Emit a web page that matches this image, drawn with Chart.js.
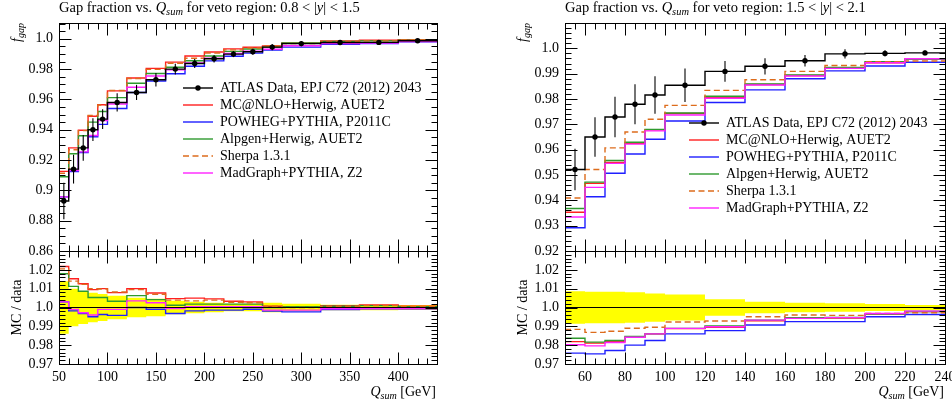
<!DOCTYPE html>
<html>
<head>
<meta charset="utf-8">
<script src="https://cdn.jsdelivr.net/npm/chart.js@4.4.1/dist/chart.umd.min.js"></script>
<style>
html,body{margin:0;padding:0;background:#fff;overflow:hidden;width:952px;height:405px;position:relative;}
canvas{position:absolute;display:block;}
</style>
</head>
<body>
<canvas id="leftMain" width="457" height="266" style="left:0px;top:0px"></canvas>
<canvas id="leftRatio" width="457" height="169" style="left:0px;top:236px"></canvas>
<canvas id="rightMain" width="459" height="266" style="left:506px;top:0px"></canvas>
<canvas id="rightRatio" width="459" height="169" style="left:506px;top:236px"></canvas>
<script>
// ---------------- labels ----------------
const dataLabel = 'ATLAS Data, EPJ C72 (2012) 2043';
const seriesNames = ['MC@NLO+Herwig, AUET2', 'POWHEG+PYTHIA, P2011C', 'Alpgen+Herwig, AUET2', 'Sherpa 1.3.1', 'MadGraph+PYTHIA, Z2'];

// ---------------- left panel: 0.8 < |y| < 1.5 ----------------
const leftEdges   = [50,60,70,80,90,100,120,140,160,180,200,220,240,260,280,320,360,400,440];
const leftCenters = [55,65,75,85,95,110,130,150,170,190,210,230,250,270,300,340,380,420];
const leftData    = [0.893,0.914,0.928,0.940,0.947,0.958,0.9646,0.973,0.980,0.9837,0.9868,0.9899,0.9914,0.9945,0.9968,0.9975,0.9976,0.9987];
const leftDataErr = [0.012,0.0095,0.0085,0.0075,0.0065,0.006,0.005,0.0045,0.0035,0.003,0.0025,0.002,0.002,0.002,0.0018,0.0015,0.0015,0.0013];
const leftMCNLO   = [0.9125,0.928,0.9397,0.9489,0.9565,0.9656,0.9741,0.9805,0.9846,0.9886,0.9913,0.9933,0.9944,0.9952,0.9972,0.9985,0.999,0.9994];
const leftPowheg  = [0.8957,0.9124,0.925,0.9354,0.9435,0.954,0.9646,0.9721,0.9769,0.9819,0.9854,0.9885,0.9905,0.9926,0.9945,0.9964,0.9969,0.998];
const leftAlpgen  = [0.909,0.9242,0.936,0.945,0.952,0.9612,0.9707,0.9771,0.9812,0.9855,0.9886,0.9917,0.9932,0.9945,0.9972,0.9982,0.9986,0.9991];
const leftSherpa  = [0.9113,0.9268,0.9394,0.9494,0.9563,0.9659,0.9738,0.9798,0.9838,0.9871,0.9906,0.9927,0.9939,0.9952,0.9968,0.9982,0.9986,0.9992];
const leftMadGraph= [0.8957,0.9131,0.9254,0.9362,0.9461,0.957,0.968,0.9754,0.9795,0.9841,0.9872,0.9903,0.9918,0.9931,0.9954,0.9968,0.9971,0.9982];
const leftRatioMCNLO   = [1.0218,1.0153,1.0126,1.0095,1.0100,1.0079,1.0100,1.0077,1.0047,1.0050,1.0046,1.0033,1.0030,1.0007,1.0004,1.0010,1.0014,1.0007];
const leftRatioPowheg  = [1.0030,0.9982,0.9968,0.9951,0.9963,0.9958,1.0000,0.9991,0.9968,0.9982,0.9986,0.9986,0.9991,0.9981,0.9977,0.9989,0.9993,0.9993];
const leftRatioAlpgen  = [1.0179,1.0112,1.0086,1.0053,1.0053,1.0033,1.0063,1.0042,1.0012,1.0018,1.0018,1.0018,1.0018,1.0000,1.0004,1.0007,1.0010,1.0004];
const leftRatioSherpa  = [1.0205,1.0140,1.0123,1.0100,1.0098,1.0082,1.0095,1.0070,1.0039,1.0035,1.0039,1.0028,1.0025,1.0007,1.0000,1.0007,1.0010,1.0005];
const leftRatioMadGraph= [1.0030,0.9990,0.9972,0.9960,0.9990,0.9990,1.0035,1.0025,0.9995,1.0004,1.0004,1.0004,1.0004,0.9986,0.9986,0.9993,0.9995,0.9995];
const leftBandHalf     = [0.0140,0.0100,0.0088,0.0078,0.0072,0.0062,0.0052,0.0046,0.0036,0.0030,0.0025,0.0020,0.0020,0.0025,0.0020,0.0015,0.0015,0.0013];

// ---------------- right panel: 1.5 < |y| < 2.1 ----------------
const rightEdges   = [50,60,70,80,90,100,120,140,160,180,200,220,240];
const rightCenters = [55,65,75,85,95,110,130,150,170,190,210,230];
const rightData    = [0.9522,0.965,0.9729,0.9779,0.9816,0.9854,0.9909,0.9929,0.9951,0.9978,0.998,0.9982];
const rightDataErr = [0.0082,0.0078,0.008,0.0079,0.0074,0.0066,0.0041,0.0032,0.0023,0.0018,0.0012,0.0009];
const rightMCNLO   = [0.9353,0.9467,0.955,0.9625,0.9678,0.9743,0.9807,0.9857,0.9893,0.9924,0.9943,0.9958];
const rightPowheg  = [0.9292,0.9414,0.9507,0.9583,0.9641,0.9713,0.9786,0.9836,0.988,0.9911,0.993,0.9945];
const rightAlpgen  = [0.9368,0.9472,0.9557,0.9629,0.968,0.9745,0.9811,0.9859,0.9895,0.9925,0.9947,0.9957];
const rightSherpa  = [0.9409,0.9522,0.9607,0.967,0.972,0.9775,0.9834,0.9876,0.9909,0.9932,0.9947,0.995];
const rightMadGraph= [0.9334,0.9451,0.9546,0.9622,0.9674,0.9737,0.9803,0.9855,0.9891,0.9921,0.9943,0.9959];
const rightRatioMCNLO   = [0.9819,0.9811,0.9819,0.9842,0.9860,0.9888,0.9895,0.9930,0.9942,0.9944,0.9965,0.9979];
const rightRatioPowheg  = [0.9758,0.9754,0.9772,0.9800,0.9825,0.9860,0.9877,0.9907,0.9925,0.9925,0.9951,0.9963];
const rightRatioAlpgen  = [0.9837,0.9816,0.9825,0.9846,0.9860,0.9889,0.9902,0.9933,0.9946,0.9947,0.9965,0.9979];
const rightRatioSherpa  = [0.9884,0.9868,0.9874,0.9890,0.9895,0.9923,0.9928,0.9951,0.9960,0.9958,0.9968,0.9972];
const rightRatioMadGraph= [0.9802,0.9796,0.9814,0.9842,0.9860,0.9889,0.9898,0.9933,0.9942,0.9946,0.9968,0.9981];
const rightBandHalf     = [0.0086,0.0083,0.0084,0.0081,0.0075,0.0069,0.0044,0.0030,0.0025,0.0022,0.0018,0.0013];

const dataRatio = 1.0;

// ---------------- tick labels ----------------
const leftMainYTicks  = [0.86,0.88,0.90,0.92,0.94,0.96,0.98,1.00];
const leftMainYLabels = ['0.86','0.88','0.9','0.92','0.94','0.96','0.98','1.0'];
const rightMainYTicks = [0.92,0.93,0.94,0.95,0.96,0.97,0.98,0.99,1.00];
const rightMainYLabels= ['0.92','0.93','0.94','0.95','0.96','0.97','0.98','0.99','1.0'];
const ratioYTicks     = [0.97,0.98,0.99,1.00,1.01,1.02];
const ratioYLabels    = ['0.97','0.98','0.99','1.0','1.01','1.02'];
const leftXTicks      = [50,100,150,200,250,300,350,400];
const leftXLabels     = ['50','100','150','200','250','300','350','400'];
const rightXTicks     = [60,80,100,120,140,160,180,200,220,240];
const rightXLabels    = ['60','80','100','120','140','160','180','200','220','240'];

// ---------------- styles ----------------
const FONT = '"Liberation Serif", "Times New Roman", serif';
const FS_TICK = 14, FS_TEXT = 14, FS_TITLE = 14.5;
const seriesColors = ['#ff1f1f','#1f1fff','#2e9a2e','#dd6c1c','#ff22ff'];
const seriesDash   = [[],[],[],[6,3.5],[]];
const BAND = '#ffff00';
Chart.defaults.font.family = FONT;
Chart.defaults.color = '#000';

function range(a,b,s){const o=[];for(let v=a;v<=b+1e-9;v+=s)o.push(+v.toFixed(6));return o;}
function histPoints(edges, vals){
  const pts = vals.map((v,i)=>({x:edges[i], y:v}));
  pts.push({x:edges[edges.length-1], y:vals[vals.length-1]});
  return pts;
}
function stepDS(edges, vals, color, dash, order, width){
  return {data:histPoints(edges, vals), borderColor:color, borderWidth:width||1.4, borderDash:dash||[],
          stepped:true, pointRadius:0, fill:false, tension:0, order:order};
}
function fontFor(p, size){ return (p.i?'italic ':'') + (p.s? size*0.72 : size) + 'px ' + FONT; }
function drawRich(ctx, x, y, parts, align, size){
  ctx.textAlign='left';
  let w=0; parts.forEach(p=>{ctx.font=fontFor(p,size); w+=ctx.measureText(p.t).width;});
  let cx = align==='right' ? x-w : (align==='center' ? x-w/2 : x);
  parts.forEach(p=>{ctx.font=fontFor(p,size); ctx.fillText(p.t, cx, y+(p.s?3:0)); cx+=ctx.measureText(p.t).width;});
}

function makeDecor(cfg){
  return {
    id:'decor',
    afterDatasetDraw(chart, args){
      const ds = chart.data.datasets[args.index];
      if(!ds.errors) return;
      const ctx=chart.ctx, xs=chart.scales.x, ys=chart.scales.y;
      ctx.save(); ctx.strokeStyle='#000'; ctx.lineWidth=1.1;
      ds.data.forEach((p,i)=>{
        const px = xs.getPixelForValue(p.x);
        ctx.beginPath();
        ctx.moveTo(px, ys.getPixelForValue(p.y - ds.errors[i]));
        ctx.lineTo(px, ys.getPixelForValue(p.y + ds.errors[i]));
        ctx.stroke();
      });
      ctx.restore();
    },
    afterDraw(chart){
      const ctx=chart.ctx, a=chart.chartArea, xs=chart.scales.x, ys=chart.scales.y;
      const L=Math.round(a.left)+0.5, R=Math.round(a.right)+0.5, T=Math.round(a.top)+0.5, B=Math.round(a.bottom)+0.5;
      ctx.save();
      ctx.strokeStyle='#000'; ctx.lineWidth=1;
      ctx.strokeRect(L, T, R-L, B-T);
      const xt=(vals,len)=>vals.forEach(v=>{const px=Math.round(xs.getPixelForValue(v))+0.5; if(px<L-0.1||px>R+0.1) return;
        ctx.beginPath(); ctx.moveTo(px,B); ctx.lineTo(px,B-len); ctx.moveTo(px,T); ctx.lineTo(px,T+len); ctx.stroke();});
      const yt=(vals,len)=>vals.forEach(v=>{const py=Math.round(ys.getPixelForValue(v))+0.5; if(py<T-0.1||py>B+0.1) return;
        ctx.beginPath(); ctx.moveTo(L,py); ctx.lineTo(L+len,py); ctx.moveTo(R,py); ctx.lineTo(R-len,py); ctx.stroke();});
      xt(cfg.xMinor,6); xt(cfg.xMajor,12); yt(cfg.yMinor,6); yt(cfg.yMajor,12);
      // texts
      ctx.fillStyle='#000'; ctx.textBaseline='alphabetic'; ctx.textAlign='left';
      if(cfg.title) drawRich(ctx, a.left, a.top-11, cfg.title, 'left', FS_TITLE);
      if(cfg.xlabel) drawRich(ctx, a.right-1, a.bottom+32, cfg.xlabel, 'right', FS_TEXT);
      if(cfg.ylabel){
        ctx.save();
        ctx.translate(a.left-38, cfg.ylabelCenter ? (a.top+a.bottom)/2 : a.top);
        ctx.rotate(-Math.PI/2);
        drawRich(ctx, 0, 0, cfg.ylabel, cfg.ylabelCenter ? 'center' : 'right', FS_TEXT);
        ctx.restore();
      }
      // legend
      if(cfg.legend){
        const lg=cfg.legend;
        lg.entries.forEach((e,k)=>{
          const y=a.top+lg.y0+k*17, x0=a.left+124, x1=a.left+154;
          ctx.save();
          ctx.strokeStyle=e.color; ctx.lineWidth=1.4; ctx.setLineDash(e.dash||[]);
          ctx.beginPath(); ctx.moveTo(x0,y); ctx.lineTo(x1,y); ctx.stroke(); ctx.setLineDash([]);
          if(e.point){ctx.fillStyle='#000'; ctx.beginPath(); ctx.arc((x0+x1)/2,y,2.7,0,Math.PI*2); ctx.fill();}
          ctx.fillStyle='#000'; ctx.font=FS_TEXT+'px '+FONT; ctx.textBaseline='middle'; ctx.textAlign='left';
          ctx.fillText(e.label, a.left+161, y+0.5);
          ctx.restore();
        });
      }
      ctx.restore();
    }
  };
}

function yAxis(min,max,ticks,labels){
  return {type:'linear', min:min, max:max, grid:{display:false, drawTicks:false}, border:{display:false},
    afterFit:s=>{s.width=50;}, afterBuildTicks:s=>{s.ticks=ticks.map(v=>({value:v}));},
    ticks:{autoSkip:false, padding:6, color:'#000', font:{family:FONT,size:FS_TICK}, callback:(v,i)=>labels[i]}};
}
const baseOpts = {responsive:false, animation:false, events:[], plugins:{legend:{display:false}, tooltip:{enabled:false}}};

function buildMain(id, P){
  const ds=[];
  ds.push({data:P.centers.map((c,i)=>({x:c,y:P.data[i]})), showLine:false, pointRadius:2.7,
           pointBackgroundColor:'#000', pointBorderColor:'#000', pointBorderWidth:0, borderColor:'#000', errors:P.err, order:0});
  ds.push(stepDS(P.edges, P.data, '#000', [], 1, 1.4));
  P.series.forEach((v,k)=>ds.push(stepDS(P.edges, v, seriesColors[k], seriesDash[k], 6-k)));
  const legendEntries=[{label:dataLabel, color:'#000', point:true}].concat(
    seriesNames.map((n,k)=>({label:n, color:seriesColors[k], dash:seriesDash[k]})));
  new Chart(document.getElementById(id), {
    type:'line', data:{datasets:ds},
    options:Object.assign({}, baseOpts, {
      layout:{padding:{left:9,right:20,top:23,bottom:15}},
      scales:{x:{type:'linear', display:false, min:P.xMin, max:P.xMax}, y:yAxis(P.yMin,P.yMax,P.yTicks,P.yLabels)}
    }),
    plugins:[makeDecor({xMajor:P.xTicks, xMinor:P.xMinor, yMajor:P.yTicks, yMinor:P.yMinor, title:P.title,
      ylabel:[{t:'f',i:1},{t:'gap',i:1,s:1}], legend:{y0:P.legendY0, entries:legendEntries}})]
  });
}
function buildRatio(id, P){
  const ds=[];
  ds.push(stepDS(P.edges, P.edges.slice(1).map(()=>dataRatio), '#000', [], 0, 1.1));
  P.series.forEach((v,k)=>ds.push(stepDS(P.edges, v, seriesColors[k], seriesDash[k], 6-k)));
  ds.push({data:histPoints(P.edges, P.band.map(h=>dataRatio+h)), stepped:true, pointRadius:0, borderWidth:0,
           borderColor:'rgba(0,0,0,0)', backgroundColor:BAND, fill:'+1', order:20});
  ds.push({data:histPoints(P.edges, P.band.map(h=>dataRatio-h)), stepped:true, pointRadius:0, borderWidth:0,
           borderColor:'rgba(0,0,0,0)', fill:false, order:21});
  new Chart(document.getElementById(id), {
    type:'line', data:{datasets:ds},
    options:Object.assign({}, baseOpts, {
      layout:{padding:{left:9,right:20,top:15,bottom:0}},
      scales:{
        x:{type:'linear', min:P.xMin, max:P.xMax, grid:{display:false, drawTicks:false}, border:{display:false},
           afterFit:s=>{s.height=41;}, afterBuildTicks:s=>{s.ticks=P.xTicks.map(v=>({value:v}));},
           ticks:{autoSkip:false, maxRotation:0, padding:5, color:'#000', font:{family:FONT,size:FS_TICK}, callback:(v,i)=>P.xLabels[i]}},
        y:yAxis(0.97,1.03,ratioYTicks,ratioYLabels)
      }
    }),
    plugins:[makeDecor({xMajor:P.xTicks, xMinor:P.xMinor, yMajor:ratioYTicks, yMinor:range(0.97,1.03,0.002),
      ylabel:[{t:'MC / data'}], ylabelCenter:true, xlabel:[{t:'Q',i:1},{t:'sum',i:1,s:1},{t:' [GeV]'}]})]
  });
}

const leftTitle  = [{t:'Gap fraction vs. '},{t:'Q',i:1},{t:'sum',i:1,s:1},{t:' for veto region: 0.8 < |'},{t:'y',i:1},{t:'| < 1.5'}];
const rightTitle = [{t:'Gap fraction vs. '},{t:'Q',i:1},{t:'sum',i:1,s:1},{t:' for veto region: 1.5 < |'},{t:'y',i:1},{t:'| < 2.1'}];

buildMain('leftMain', {edges:leftEdges, centers:leftCenters, data:leftData, err:leftDataErr,
  series:[leftMCNLO,leftPowheg,leftAlpgen,leftSherpa,leftMadGraph],
  xMin:50, xMax:440, xTicks:leftXTicks, xMinor:range(50,440,10),
  yMin:0.86, yMax:1.0104, yTicks:leftMainYTicks, yLabels:leftMainYLabels, yMinor:range(0.86,1.01,0.005),
  title:leftTitle, legendY0:65});
buildRatio('leftRatio', {edges:leftEdges, series:[leftRatioMCNLO,leftRatioPowheg,leftRatioAlpgen,leftRatioSherpa,leftRatioMadGraph],
  band:leftBandHalf, xMin:50, xMax:440, xTicks:leftXTicks, xLabels:leftXLabels, xMinor:range(50,440,10)});
buildMain('rightMain', {edges:rightEdges, centers:rightCenters, data:rightData, err:rightDataErr,
  series:[rightMCNLO,rightPowheg,rightAlpgen,rightSherpa,rightMadGraph],
  xMin:50, xMax:240, xTicks:rightXTicks, xMinor:range(50,240,5),
  yMin:0.92, yMax:1.01, yTicks:rightMainYTicks, yLabels:rightMainYLabels, yMinor:range(0.92,1.01,0.002),
  title:rightTitle, legendY0:100});
buildRatio('rightRatio', {edges:rightEdges, series:[rightRatioMCNLO,rightRatioPowheg,rightRatioAlpgen,rightRatioSherpa,rightRatioMadGraph],
  band:rightBandHalf, xMin:50, xMax:240, xTicks:rightXTicks, xLabels:rightXLabels, xMinor:range(50,240,5)});
</script>
</body>
</html>
